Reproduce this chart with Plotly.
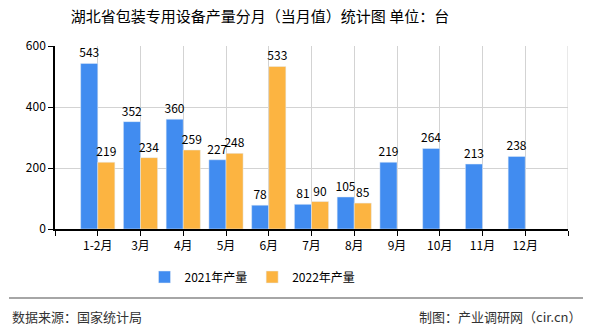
import plotly.graph_objects as go

categories = ["1-2月", "3月", "4月", "5月", "6月", "7月", "8月", "9月", "10月", "11月", "12月"]
prod_2021 = [543, 352, 360, 227, 78, 81, 105, 219, 264, 213, 238]
prod_2022 = [219, 234, 259, 248, 533, 90, 85]
y_ticks = [0, 200, 400, 600]

FONT = "Noto Sans CJK SC, DejaVu Sans, sans-serif"
xs = list(range(len(categories)))

fig = go.Figure()
fig.add_trace(go.Bar(
    x=xs, y=prod_2021, name="2021年产量", marker_color="#418CF0",
    width=0.4, offset=-0.4, text=[str(v) for v in prod_2021],
    textposition="outside", constraintext="none",
    textfont=dict(size=12, color="#000", family=FONT),
    cliponaxis=False,
))
fig.add_trace(go.Bar(
    x=xs[:len(prod_2022)], y=prod_2022, name="2022年产量", marker_color="#FCB441",
    width=0.4, offset=0, text=[str(v) for v in prod_2022],
    textposition="outside", constraintext="none",
    textfont=dict(size=12, color="#000", family=FONT),
    cliponaxis=False,
))

tickvals = [-1] + xs + [len(categories)]
ticktext = [""] + categories + [""]

fig.update_layout(
    width=590, height=330,
    margin=dict(l=55, r=22, t=46, b=101),
    paper_bgcolor="white", plot_bgcolor="white",
    font=dict(family=FONT, size=12, color="#000"),
    barmode="overlay",
    showlegend=True,
    legend=dict(orientation="h", x=0.385, xanchor="center", y=-(277 - 229) / 183, yanchor="middle",
                font=dict(size=12, color="#000"), itemwidth=30, traceorder="normal"),
    title=dict(text="湖北省包装专用设备产量分月（当月值）统计图 单位：台",
               x=260/590, xanchor="center", y=1 - 17/330, yanchor="middle",
               font=dict(size=15, color="#000", family=FONT)),
)
fig.update_xaxes(
    range=[-1, len(categories)], tickvals=tickvals, ticktext=ticktext,
    showgrid=True, gridcolor="#D3D3D3", gridwidth=1,
    showline=True, linecolor="#000", linewidth=1.5,
    ticks="outside", ticklen=5, tickcolor="#000",
    tickfont=dict(size=12, color="#000"), zeroline=False,
)
fig.update_yaxes(
    range=[0, 600], tickvals=y_ticks,
    showgrid=True, gridcolor="#D3D3D3", gridwidth=1,
    showline=True, linecolor="#000", linewidth=1.5,
    ticks="outside", ticklen=5, tickcolor="#000",
    tickfont=dict(size=12, color="#000"), zeroline=False,
)
# right border
fig.add_shape(type="line", xref="x", yref="paper", x0=len(categories), x1=len(categories),
              y0=0, y1=1, line=dict(color="#D3D3D3", width=1))

fig.add_shape(type="line", xref="paper", yref="paper", x0=-46/513, x1=(583-55)/513,
              y0=-(298-229)/183, y1=-(298-229)/183, line=dict(color="#888", width=1.5))
fig.add_annotation(text="数据来源：国家统计局", xref="paper", yref="paper",
                   x=-45/513, xanchor="left", y=-(316-229)/183, yanchor="middle",
                   showarrow=False, font=dict(size=13, color="#333", family=FONT))
fig.add_annotation(text="制图：产业调研网（cir.cn）", xref="paper", yref="paper",
                   x=(583-55)/513, xanchor="right", y=-(316-229)/183, yanchor="middle",
                   showarrow=False, font=dict(size=13, color="#333", family=FONT))

fig.write_html("out.html")
